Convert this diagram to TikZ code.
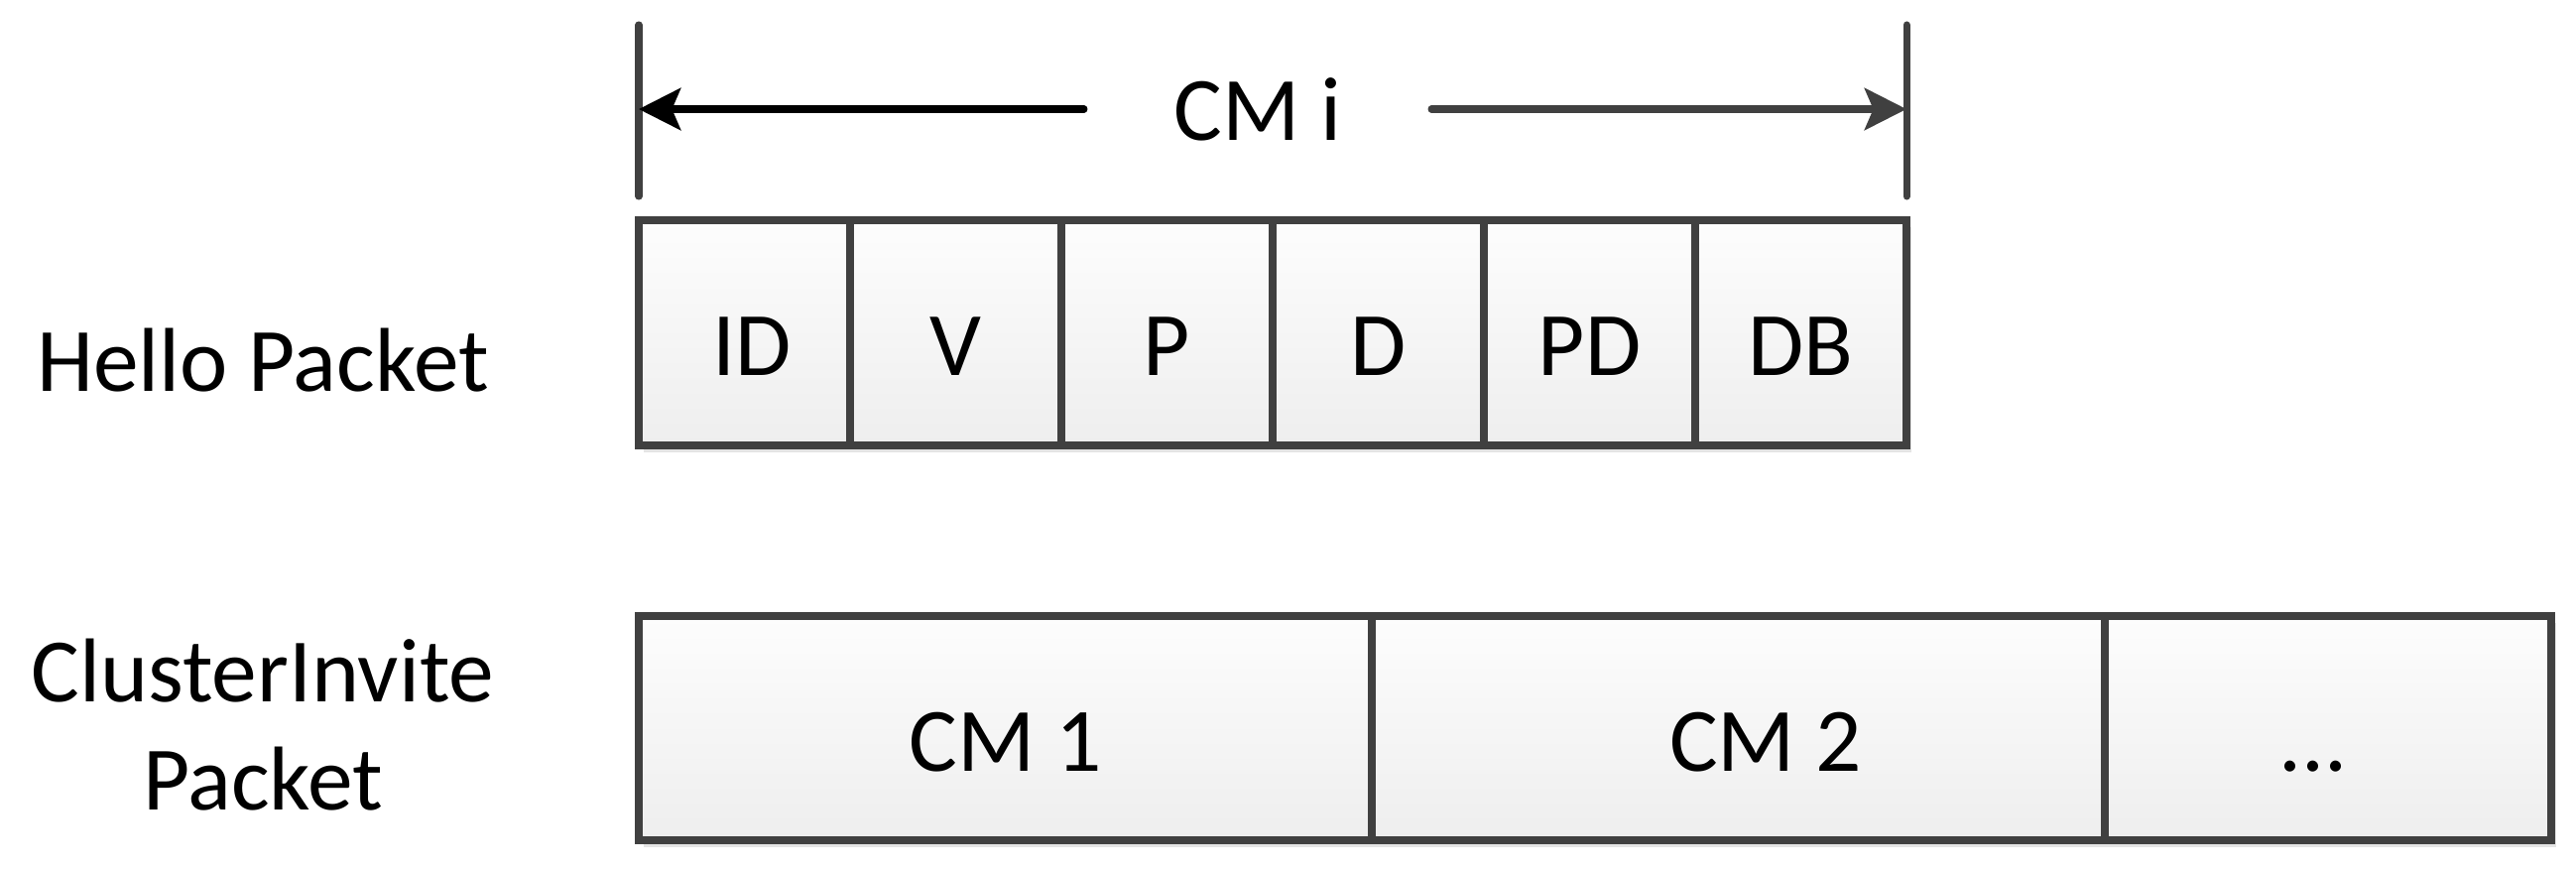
\documentclass[tikz,border=0pt]{standalone}
\usepackage{fontspec}
\setmainfont{Carlito}
\usepackage{tikz}
\usepackage{xcolor}
\usetikzlibrary{arrows.meta,shadows}

\definecolor{linegray}{HTML}{404040}
\definecolor{fieldtop}{HTML}{FDFDFD}
\definecolor{fieldbot}{HTML}{EEEEEE}
\definecolor{shadowgray}{HTML}{E4E4E4}

\tikzset{
  field/.style={rectangle, draw=linegray, line width=2.2pt, top color=fieldtop, bottom color=fieldbot,
    inner sep=0pt, text height=0.86cm, text depth=0pt,
    drop shadow={shadow xshift=0.05cm, shadow yshift=-0.07cm, fill=shadowgray, opacity=1}},
  hellofield/.style={field, minimum width=2.13cm, minimum height=2.27cm},
  invitefield/.style={field, minimum height=2.26cm},
  tickline/.style={draw=linegray, line width=2pt, line cap=round},
  span/.style={line width=2pt, line cap=round, -{Stealth[length=12pt, width=12pt, inset=2.5pt]}},
}

\begin{document}
\begin{tikzpicture}[x=0.01cm, y=-0.01cm, font=\fontsize{26}{31}\selectfont]
    \useasboundingbox (0, 0) rectangle (2597, 875);

    \node [inner sep=0pt] (hellolabel) at (265, 363) {Hello Packet};
    \node [inner sep=0pt, align=center] (invitelabel) at (265, 731) {ClusterInvite\\Packet};

    \node [hellofield] (id) at (750.5, 335.5) {\hspace{0.15cm}ID};
    \node [hellofield] (v) at (963.5, 335.5) {V};
    \node [hellofield] (p) at (1176.5, 335.5) {P};
    \node [hellofield] (d) at (1389.5, 335.5) {D};
    \node [hellofield] (pd) at (1602.5, 335.5) {PD};
    \node [hellofield] (db) at (1815.5, 335.5) {DB};

    \node [invitefield, minimum width=7.39cm] (cm1) at (1013.5, 734) {CM 1};
    \node [invitefield, minimum width=7.39cm] (cm2) at (1752.5, 734) {\hspace{0.55cm}CM 2};
    \node [invitefield, minimum width=4.50cm] (more) at (2347, 734) {...\kern0.3cm};

    \coordinate (lefttop) at (644, 25);
    \coordinate (leftbot) at (644, 198);
    \coordinate (leftmid) at (644, 110);
    \coordinate (righttop) at (1922, 25);
    \coordinate (rightbot) at (1922, 198);
    \coordinate (rightmid) at (1922, 110);
    \node [inner xsep=0.9cm, inner ysep=0pt, text depth=0pt] (cmi) at (1268, 110) {CM i};

    \draw [tickline] (lefttop) -- (leftbot);
    \draw [tickline] (righttop) -- (rightbot);
    \draw [span, black] (cmi) -- (leftmid);
    \draw [span, linegray] (cmi) -- (rightmid);
  \end{tikzpicture}
\end{document}
